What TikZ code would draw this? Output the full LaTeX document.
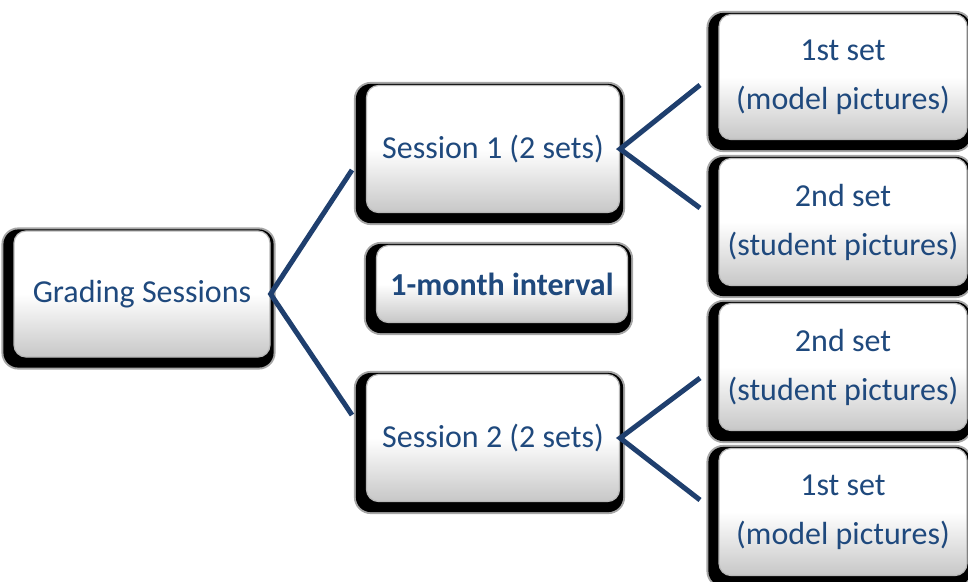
\documentclass[tikz,border=0pt]{standalone}
\usepackage{fontspec}
\setmainfont{Carlito}
\usetikzlibrary{backgrounds}
\definecolor{txtblue}{HTML}{1F497D}
\definecolor{lineblue}{HTML}{1F3F6E}
\tikzset{
  box/.style={draw=black!28, line width=1.2pt, rounded corners=12pt, top color=white, bottom color=black!22, middle color=white,
    text=txtblue, align=center, inner sep=0pt, font=\fontsize{32}{49}\selectfont},
  shadowbox/.style={fill=black, rounded corners=15pt},
  softshadow/.style={fill=black, fill opacity=0.35, rounded corners=17pt},
  conn/.style={draw=lineblue, line width=5pt},
}
\newcommand{\boxshadow}[1]{%
  \fill[softshadow] ([shift={(-12,12)}]#1.south west) rectangle ([shift={(5,-3)}]#1.north east);
  \fill[shadowbox] ([shift={(-10,10)}]#1.south west) rectangle ([shift={(3,-1)}]#1.north east);}
\begin{document}
\begin{tikzpicture}[x=1pt,y=-1pt]
\useasboundingbox (0,0) rectangle (968,581);
\node[box, minimum width=256pt, minimum height=126pt] (g) at (142,294) {Grading Sessions};
\node[box, minimum width=253pt, minimum height=127pt] (s1) at (493,149) {Session 1 (2 sets)};
\node[box, minimum width=251pt, minimum height=77pt, font=\fontsize{32}{38}\selectfont\bfseries] (iv) at (502,284) {1-month interval};
\node[box, minimum width=253pt, minimum height=127pt] (s2) at (493,438) {Session 2 (2 sets)};
\node[box, minimum width=248pt, minimum height=125pt] (r1) at (843,77) {1st set\\(model pictures)};
\node[box, minimum width=248pt, minimum height=127pt] (r2) at (843,222) {2nd set\\(student pictures)};
\node[box, minimum width=248pt, minimum height=127pt] (r3) at (843,367) {2nd set\\(student pictures)};
\node[box, minimum width=248pt, minimum height=127pt] (r4) at (843,512) {1st set\\(model pictures)};
\begin{scope}[on background layer]
\boxshadow{g}\boxshadow{s1}\boxshadow{iv}\boxshadow{s2}\boxshadow{r1}\boxshadow{r2}\boxshadow{r3}\boxshadow{r4}
\end{scope}
\coordinate (s1in) at (352,170);
\coordinate (s2in) at (352,415);
\coordinate (r1in) at (700,85);
\coordinate (r2in) at (700,208);
\coordinate (r3in) at (700,378);
\coordinate (r4in) at (700,500);
\draw[conn] (s1in) -- (g.east) -- (s2in);
\draw[conn] (r1in) -- (s1.east) -- (r2in);
\draw[conn] (r3in) -- (s2.east) -- (r4in);
\end{tikzpicture}
\end{document}
